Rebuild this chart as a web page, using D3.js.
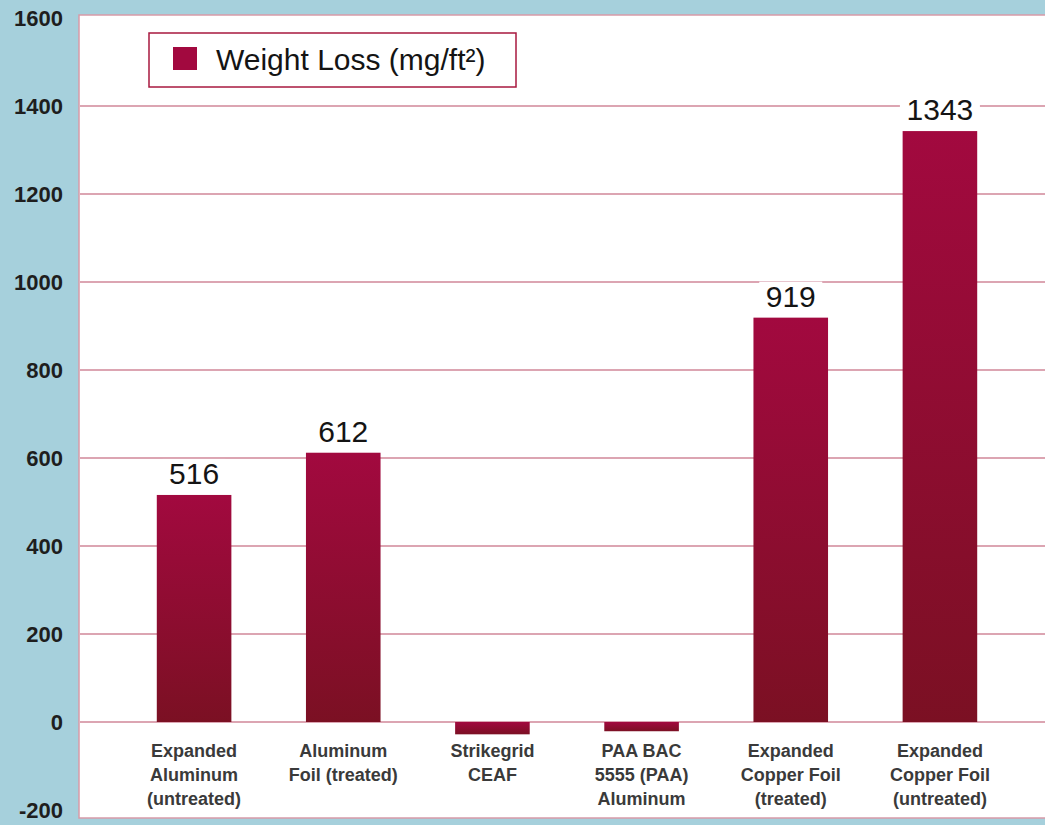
<!DOCTYPE html>
<html>
<head>
<meta charset="utf-8">
<script src="https://cdn.jsdelivr.net/npm/d3@7"></script>
<style>
  html, body { margin: 0; padding: 0; background: #a6d0dc; }
  svg { display: block; }
</style>
</head>
<body>
<svg id="chart"></svg>
<script>
// sizes of the page
const width = 1045
const height = 825

// data
const categories = [
    ['Expanded', 'Aluminum', '(untreated)'],
    ['Aluminum', 'Foil (treated)'],
    ['Strikegrid', 'CEAF'],
    ['PAA BAC', '5555 (PAA)', 'Aluminum'],
    ['Expanded', 'Copper Foil', '(treated)'],
    ['Expanded', 'Copper Foil', '(untreated)']
]
const weightLoss = [516, 612, -28, -21, 919, 1343]
const valueLabels = ['516', '612', '', '', '919', '1343']
const yTicks = [-200, 0, 200, 400, 600, 800, 1000, 1200, 1400, 1600]
const legendLabel = 'Weight Loss (mg/ft²)'

const font = '"Liberation Sans", Arial, sans-serif'

let svg = d3.select('#chart').attr('width', width).attr('height', height)

// gradient for bars
let defs = svg.append('defs')
let grad = defs.append('linearGradient')
    .attr('id', 'barGrad')
    .attr('x1', 0).attr('y1', 0).attr('x2', 0).attr('y2', 1)
grad.append('stop').attr('offset', '0%').attr('stop-color', '#a2093f')
grad.append('stop').attr('offset', '100%').attr('stop-color', '#7b1023')

// background
svg.append('rect')
    .attr('width', width).attr('height', height)
    .attr('fill', '#a6d0dc')

// white plot area
svg.append('rect')
    .attr('x', 79).attr('y', 15)
    .attr('width', width - 79 + 10).attr('height', 803)
    .attr('fill', '#ffffff')
    .attr('stroke', '#d79aa8')
    .attr('stroke-width', 1.5)

let x = d3.scaleBand()
    .domain(d3.range(categories.length))
    .range([119.5, 1014.5])
    .paddingInner(0.5)
    .paddingOuter(0.25)

let y = d3.scaleLinear()
    .domain([-200, 1600])
    .range([810, 18])

// gridlines
svg.append('g')
    .selectAll('line')
    .data(yTicks.filter(d => d > -200 && d < 1600))
    .enter()
    .append('line')
    .attr('x1', 80).attr('x2', width)
    .attr('y1', d => y(d)).attr('y2', d => y(d))
    .attr('stroke', '#dca5b2')
    .attr('stroke-width', 2)

// y axis labels
let yAxis = svg.append('g')
    .attr('transform', 'translate(63,0)')
    .call(d3.axisLeft(y).tickValues(yTicks).tickSize(0).tickPadding(0).tickFormat(d => String(d)))
yAxis.select('.domain').remove()
yAxis.selectAll('text')
    .attr('font-family', font)
    .attr('font-size', 22)
    .attr('font-weight', 'bold')
    .attr('fill', '#1e1e1e')

// bars
svg.append('g')
    .selectAll('rect')
    .data(weightLoss)
    .enter()
    .append('rect')
    .attr('x', (d, i) => x(i))
    .attr('width', x.bandwidth())
    .attr('y', d => Math.min(y(d), y(0)))
    .attr('height', d => Math.abs(y(d) - y(0)))
    .attr('fill', 'url(#barGrad)')

// value labels with white backing
let labelData = weightLoss
    .map((v, i) => ({ i: i, v: v, t: valueLabels[i] }))
    .filter(d => d.t !== '')

let labels = svg.append('g')
    .selectAll('g')
    .data(labelData)
    .enter()
    .append('g')

labels.append('rect')
    .attr('x', d => x(d.i) + x.bandwidth() / 2 - d.t.length * 8.5 - 6)
    .attr('width', d => d.t.length * 17 + 12)
    .attr('y', d => y(d.v) - 36)
    .attr('height', 30)
    .attr('fill', '#ffffff')

labels.append('text')
    .attr('x', d => x(d.i) + x.bandwidth() / 2)
    .attr('y', d => y(d.v) - 11)
    .attr('text-anchor', 'middle')
    .attr('font-family', font)
    .attr('font-size', 30)
    .attr('fill', '#141414')
    .text(d => d.t)

// category labels
let cats = svg.append('g')
    .selectAll('text')
    .data(categories)
    .enter()
    .append('text')
    .attr('x', (d, i) => x(i) + x.bandwidth() / 2)
    .attr('y', 757)
    .attr('text-anchor', 'middle')
    .attr('font-family', font)
    .attr('font-size', 18)
    .attr('font-weight', 'bold')
    .attr('fill', '#3a3a3a')

cats.selectAll('tspan')
    .data(d => d)
    .enter()
    .append('tspan')
    .attr('x', function () { return d3.select(this.parentNode).attr('x') })
    .attr('dy', (d, i) => i === 0 ? 0 : 24)
    .text(d => d)

// legend
let legend = svg.append('g')
legend.append('rect')
    .attr('x', 149).attr('y', 33)
    .attr('width', 367).attr('height', 54)
    .attr('fill', '#ffffff')
    .attr('stroke', '#a8183f')
    .attr('stroke-width', 1.5)
legend.append('rect')
    .attr('x', 173).attr('y', 47)
    .attr('width', 24).attr('height', 23)
    .attr('fill', '#a2093f')
legend.append('text')
    .attr('x', 216).attr('y', 70)
    .attr('font-family', font)
    .attr('font-size', 30)
    .attr('fill', '#141414')
    .text(legendLabel)
</script>
</body>
</html>
